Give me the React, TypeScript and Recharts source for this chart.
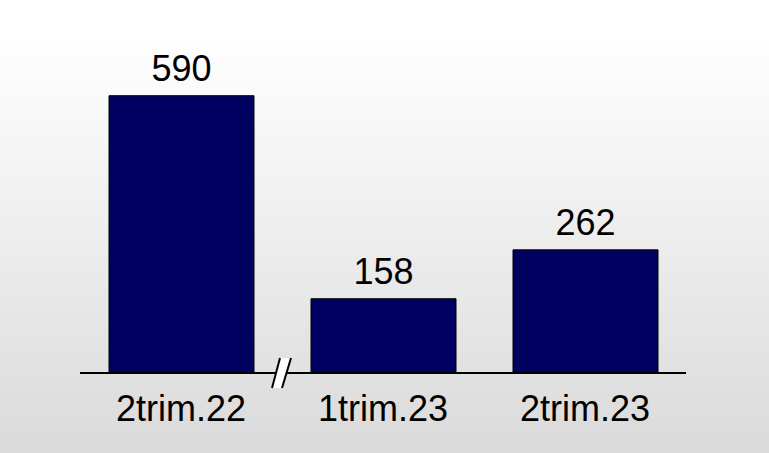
import { BarChart, Bar, XAxis, YAxis, LabelList } from "recharts";

const categories = ["2trim.22", "1trim.23", "2trim.23"];
const values = [590, 158, 262];

const data = categories.map((name, i) => ({ name, value: values[i] }));

const W = 769;
const H = 453;
const M = { top: 91, right: 83, bottom: 30, left: 80 };
const BAND = (W - M.left - M.right) / categories.length;
const FONT = "'Liberation Sans', Arial, Helvetica, sans-serif";

function Tick(props: any) {
  const { x, y, payload, index } = props;
  const bx = x + BAND / 2;
  return (
    <g>
      <text
        x={x}
        y={y + 48}
        textAnchor="middle"
        fontSize={36}
        fontFamily={FONT}
        fill="#000"
      >
        {payload.value}
      </text>
      {index === 0 && (
        // axis break after the first category
        <g>
          <polygon
            points={`${bx - 10},${y + 15} ${bx - 2},${y - 15} ${bx + 9},${y - 15} ${bx},${y + 15}`}
            fill="#fff"
          />
          <line x1={bx - 10} y1={y + 15} x2={bx - 2} y2={y - 15} stroke="#000" strokeWidth={2} />
          <line x1={bx} y1={y + 15} x2={bx + 9} y2={y - 15} stroke="#000" strokeWidth={2} />
        </g>
      )}
    </g>
  );
}

export default function App() {
  return (
    <div
      style={{
        position: "absolute",
        left: 0,
        top: 0,
        width: W,
        height: H,
        background: "linear-gradient(180deg, #ffffff 0%, #ffffff 8%, #dadada 100%)",
      }}
    >
      <BarChart width={W} height={H} data={data} margin={M}>
        <XAxis
          dataKey="name"
          height={50}
          tickLine={false}
          tickSize={0}
          tickMargin={0}
          axisLine={{ stroke: "#000", strokeWidth: 2 }}
          tick={<Tick />}
          interval={0}
        />
        <YAxis hide domain={[0, 600]} />
        <Bar
          dataKey="value"
          fill="#000060"
          stroke="#000"
          strokeWidth={1}
          barSize={145}
          isAnimationActive={false}
        >
          <LabelList
            dataKey="value"
            position="top"
            offset={15}
            fontSize={36}
            fontFamily={FONT}
            fill="#000"
          />
        </Bar>
      </BarChart>
    </div>
  );
}
